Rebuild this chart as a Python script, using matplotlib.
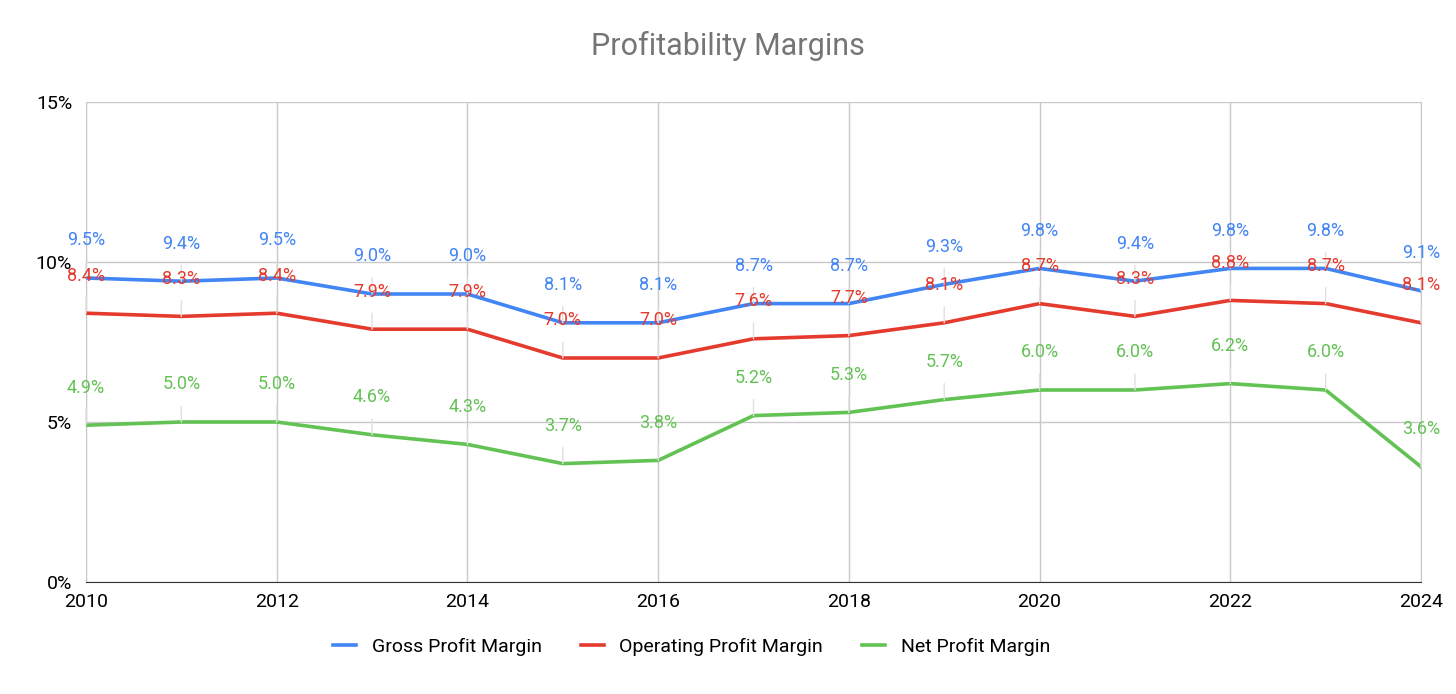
import matplotlib.pyplot as plt
from matplotlib.ticker import FuncFormatter

years = list(range(2010, 2025))
gross = [9.5, 9.4, 9.5, 9.0, 9.0, 8.1, 8.1, 8.7, 8.7, 9.3, 9.8, 9.4, 9.8, 9.8, 9.1]
operating = [8.4, 8.3, 8.4, 7.9, 7.9, 7.0, 7.0, 7.6, 7.7, 8.1, 8.7, 8.3, 8.8, 8.7, 8.1]
net = [4.9, 5.0, 5.0, 4.6, 4.3, 3.7, 3.8, 5.2, 5.3, 5.7, 6.0, 6.0, 6.2, 6.0, 3.6]

series = [
    ("Gross Profit Margin", gross, "#4285F4"),
    ("Operating Profit Margin", operating, "#E53A2E"),
    ("Net Profit Margin", net, "#63C254"),
]

plt.rcParams['font.family'] = ['Roboto', 'DejaVu Sans']

fig = plt.figure(figsize=(14.56, 6.94), dpi=100)
ax = fig.add_axes([86 / 1456, 1 - 582 / 694, (1421 - 86) / 1456, (582 - 102) / 694])

for name, vals, color in series:
    ax.plot(years, vals, color=color, linewidth=2.6, label=name, zorder=3)
    for x, y in zip(years, vals):
        ax.annotate(f"{y:.1f}%", (x, y), xytext=(0, 27), textcoords="offset points",
                    ha="center", va="center", color=color, fontsize=13, zorder=4,
                    arrowprops=dict(arrowstyle="-", color="#e0e0e0", lw=1,
                                    shrinkA=7, shrinkB=0))

ax.set_xlim(2010, 2024)
ax.set_ylim(0, 15)
ax.set_xticks(range(2010, 2025, 2))
ax.set_yticks([0, 5, 10, 15])
ax.yaxis.set_major_formatter(FuncFormatter(lambda v, p: f"{v:.0f}%"))
ax.grid(True, color="#c8c8c8", linewidth=1)
ax.set_axisbelow(True)
ax.spines["top"].set_visible(False)
ax.spines["right"].set_color("#c8c8c8")
ax.spines["left"].set_color("#c8c8c8")
ax.spines["bottom"].set_color("#333333")
ax.tick_params(length=0, labelsize=14, pad=8)
ax.tick_params(axis="y", pad=10)

fig.suptitle("Profitability Margins", y=0.955, fontsize=22, color="#757575")
fig.legend(loc="center", bbox_to_anchor=(0.475, 1 - 647 / 694), ncol=3, frameon=False,
           fontsize=14, handlelength=1.2, columnspacing=2.0)

fig.savefig("out.png", dpi=100)
